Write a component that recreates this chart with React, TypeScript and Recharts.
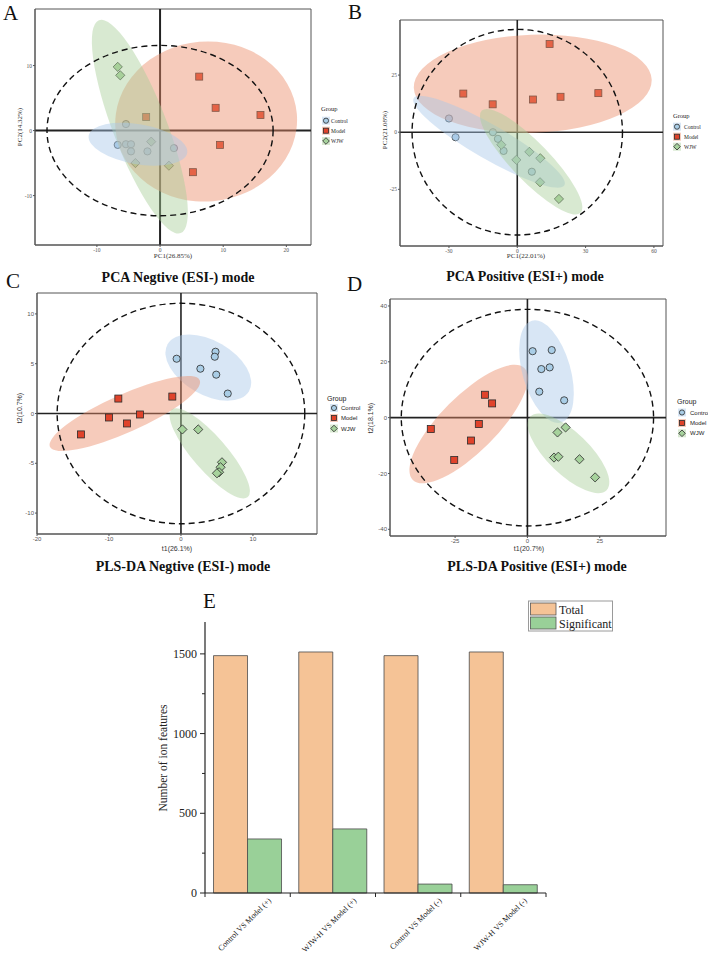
import {
  ScatterChart,
  Scatter,
  XAxis,
  YAxis,
  ReferenceLine,
  ReferenceArea,
  BarChart,
  Bar,
} from "recharts";

type Point = { x: number; y: number };
type Group = "Control" | "Model" | "WJW";
type Rect = { x: number; y: number; w: number; h: number };
// confidence ellipse: centre in score units, semi-axes in px, tilt in degrees
type Ellipse = { group: Group; x: number; y: number; rx: number; ry: number; angle: number };

// --- PCA, ESI- (PC1 26.85%, PC2 14.32%) ---
const PCA_NEG_CONTROL: Point[] = [
  { x: -5.4, y: 1.0 }, { x: -6.7, y: -2.2 }, { x: -5.4, y: -2.1 }, { x: -4.6, y: -2.1 },
  { x: -4.6, y: -3.2 }, { x: -2.0, y: -3.2 }, { x: 2.2, y: -2.7 },
];
const PCA_NEG_MODEL: Point[] = [
  { x: 6.2, y: 8.3 }, { x: 8.8, y: 3.5 }, { x: 15.9, y: 2.4 },
  { x: 9.5, y: -2.2 }, { x: 5.2, y: -6.4 }, { x: -2.2, y: 2.1 },
];
const PCA_NEG_WJW: Point[] = [
  { x: -6.7, y: 9.8 }, { x: -6.3, y: 8.5 }, { x: -1.4, y: -1.7 },
  { x: -3.9, y: -5.0 }, { x: 1.4, y: -5.4 },
];

// --- PCA, ESI+ (PC1 22.01%, PC2 21.08%) ---
const PCA_POS_CONTROL: Point[] = [
  { x: -30.0, y: 6.0 }, { x: -27.1, y: -2.2 }, { x: -10.7, y: 0.0 },
  { x: -8.5, y: -2.9 }, { x: -6.0, y: -8.2 }, { x: 6.4, y: -17.3 },
];
const PCA_POS_MODEL: Point[] = [
  { x: 14.2, y: 38.6 }, { x: -23.7, y: 16.9 }, { x: -10.8, y: 12.2 },
  { x: 6.9, y: 14.3 }, { x: 19.0, y: 15.5 }, { x: 35.6, y: 17.1 },
];
const PCA_POS_WJW: Point[] = [
  { x: -7.0, y: -5.5 }, { x: -0.4, y: -12.1 }, { x: 5.3, y: -8.6 },
  { x: 10.1, y: -11.4 }, { x: 10.0, y: -21.9 }, { x: 18.3, y: -29.2 },
];

// --- PLS-DA, ESI- (t1 26.1%, t2 10.7%) ---
const PLS_NEG_CONTROL: Point[] = [
  { x: -0.6, y: 5.5 }, { x: 2.7, y: 4.5 }, { x: 4.8, y: 6.2 },
  { x: 4.7, y: 5.7 }, { x: 4.9, y: 3.9 }, { x: 6.5, y: 2.0 },
];
const PLS_NEG_MODEL: Point[] = [
  { x: -8.7, y: 1.5 }, { x: -1.2, y: 1.7 }, { x: -10.0, y: -0.4 },
  { x: -5.7, y: -0.1 }, { x: -7.5, y: -1.0 }, { x: -13.9, y: -2.1 },
];
const PLS_NEG_WJW: Point[] = [
  { x: 0.2, y: -1.6 }, { x: 2.4, y: -1.6 }, { x: 5.7, y: -4.9 },
  { x: 5.5, y: -5.4 }, { x: 5.3, y: -5.9 }, { x: 5.0, y: -6.0 },
];

// --- PLS-DA, ESI+ (t1 20.7%, t2 18.1%) ---
const PLS_POS_CONTROL: Point[] = [
  { x: 1.8, y: 23.8 }, { x: 8.4, y: 24.2 }, { x: 4.8, y: 17.4 },
  { x: 7.7, y: 18.0 }, { x: 4.1, y: 9.3 }, { x: 12.7, y: 6.2 },
];
const PLS_POS_MODEL: Point[] = [
  { x: -14.7, y: 8.2 }, { x: -12.2, y: 5.1 }, { x: -16.8, y: -2.3 },
  { x: -19.5, y: -8.2 }, { x: -33.4, y: -4.1 }, { x: -25.3, y: -15.2 },
];
const PLS_POS_WJW: Point[] = [
  { x: 10.4, y: -5.3 }, { x: 13.2, y: -3.5 }, { x: 9.2, y: -14.3 },
  { x: 10.7, y: -14.0 }, { x: 18.0, y: -14.9 }, { x: 23.4, y: -21.4 },
];

// group ellipses
const PCA_NEG_ELLIPSES: Ellipse[] = [
  { group: "Model", x: 7.3, y: 1.4, rx: 91, ry: 80, angle: -5 },
  { group: "WJW", x: -3.2, y: 0.6, rx: 114, ry: 27, angle: 69 },
  { group: "Control", x: -3.5, y: -2.1, rx: 50, ry: 20, angle: 10 },
];
const PCA_POS_ELLIPSES: Ellipse[] = [
  { group: "Model", x: 6.8, y: 21.2, rx: 119, ry: 49, angle: -2 },
  { group: "Control", x: -12.4, y: -4.2, rx: 87, ry: 17, angle: 30 },
  { group: "WJW", x: 6.1, y: -12.9, rx: 71, ry: 19, angle: 46 },
];
const PLS_NEG_ELLIPSES: Ellipse[] = [
  { group: "Control", x: 3.8, y: 4.6, rx: 47, ry: 27, angle: 30 },
  { group: "Model", x: -7.8, y: 0.0, rx: 82, ry: 19, angle: -24 },
  { group: "WJW", x: 4.0, y: -4.0, rx: 58, ry: 17, angle: 49 },
];
const PLS_POS_ELLIPSES: Ellipse[] = [
  { group: "Model", x: -20.3, y: -2.3, rx: 79, ry: 28, angle: -45 },
  { group: "Control", x: 6.6, y: 16.5, rx: 53, ry: 24, angle: 74 },
  { group: "WJW", x: 14.2, y: -12.8, rx: 53, ry: 21, angle: 44 },
];

// Hotelling T2 ellipse half-widths (score units)
const PCA_NEG_T2 = { rx: 17.9, ry: 13.1 };
const PCA_POS_T2 = { rx: 46.2, ry: 45.0 };
const PLS_NEG_T2 = { rx: 17.2, ry: 11.07 };
const PLS_POS_T2 = { rx: 43.6, ry: 38.8 };
const ORIGIN: Point[] = [{ x: 0, y: 0 }];

// --- Ion feature counts ---
const COMPARISONS = [
  "Control VS Model (+)",
  "WJW-H VS Model (+)",
  "Control VS Model (-)",
  "WJW-H VS Model (-)",
];
const TOTAL_FEATURES = [1489, 1512, 1489, 1512];
const SIGNIFICANT_FEATURES = [339, 402, 56, 52];
const COUNT_TICKS = [0, 250, 500, 750, 1000, 1250, 1500];

const GROUPS: Group[] = ["Control", "Model", "WJW"];

const SERIF = '"Liberation Serif", "Times New Roman", serif';
const SANS = '"Liberation Sans", Arial, sans-serif';

const POINT_FILL: Record<Group, string> = {
  Control: "#A9CDE6",
  Model: "#E0432B",
  WJW: "#A6D29C",
};
const AREA_FILL: Record<Group, string> = {
  Control: "#A9C8E8",
  Model: "#EB8C68",
  WJW: "#A8CE98",
};
const EDGE = "#2b2b2b";

function Marker({ group, cx, cy, s = 1 }: { group: Group; cx: number; cy: number; s?: number }) {
  if (group === "Control") {
    return <circle cx={cx} cy={cy} r={3.6 * s} fill={POINT_FILL.Control} stroke={EDGE} strokeWidth={0.8} />;
  }
  if (group === "Model") {
    const h = 3.5 * s;
    return <rect x={cx - h} y={cy - h} width={2 * h} height={2 * h} fill={POINT_FILL.Model} stroke={EDGE} strokeWidth={0.8} />;
  }
  const d = 4.6 * s;
  return (
    <polygon
      points={`${cx},${cy - d} ${cx + d},${cy} ${cx},${cy + d} ${cx - d},${cy}`}
      fill={POINT_FILL.WJW}
      stroke={EDGE}
      strokeWidth={0.8}
    />
  );
}

type ScorePlotProps = {
  box: Rect;
  plot: Rect;
  xDomain: [number, number];
  yDomain: [number, number];
  xTicks: number[];
  yTicks: number[];
  series: Record<Group, Point[]>;
  ellipses: Ellipse[];
  t2: { rx: number; ry: number };
  ellipsesOnTop: boolean;
  font: string;
  tickFont: number;
  axisWidth: number;
};

function ScorePlot(p: ScorePlotProps) {
  const { box, plot, xDomain, yDomain } = p;
  const kx = plot.w / (xDomain[1] - xDomain[0]);
  const ky = plot.h / (yDomain[1] - yDomain[0]);
  const tick = { fontSize: p.tickFont, fill: "#555", fontFamily: p.font };

  const ellipseLayer = (
    <Scatter
      key="ellipses"
      data={p.ellipses}
      isAnimationActive={false}
      shape={(s: any) => (
        <ellipse
          cx={s.cx}
          cy={s.cy}
          rx={s.payload.rx}
          ry={s.payload.ry}
          transform={`rotate(${s.payload.angle} ${s.cx} ${s.cy})`}
          fill={AREA_FILL[s.payload.group as Group]}
          fillOpacity={0.45}
        />
      )}
    />
  );

  return (
    <div style={{ position: "absolute", left: box.x, top: box.y }}>
      <ScatterChart
        width={box.w}
        height={box.h}
        margin={{ top: plot.y - box.y, right: box.x + box.w - plot.x - plot.w, bottom: 0, left: 0 }}
      >
        <XAxis
          type="number"
          dataKey="x"
          domain={xDomain}
          ticks={p.xTicks}
          interval={0}
          allowDataOverflow
          height={box.y + box.h - plot.y - plot.h}
          tick={tick}
          tickSize={2}
          tickMargin={1}
          stroke="#555"
        />
        <YAxis
          type="number"
          dataKey="y"
          domain={yDomain}
          ticks={p.yTicks}
          interval={0}
          allowDataOverflow
          width={plot.x - box.x}
          tick={tick}
          tickSize={2}
          tickMargin={1}
          stroke="#555"
        />
        <ReferenceArea
          x1={xDomain[0]}
          x2={xDomain[1]}
          y1={yDomain[0]}
          y2={yDomain[1]}
          fill="none"
          stroke="#555"
          strokeWidth={1}
        />
        <ReferenceLine x={0} stroke="#222" strokeWidth={p.axisWidth} />
        <ReferenceLine y={0} stroke="#222" strokeWidth={p.axisWidth} />
        {!p.ellipsesOnTop && ellipseLayer}
        {GROUPS.map((g) => (
          <Scatter
            key={g}
            name={g}
            data={p.series[g]}
            isAnimationActive={false}
            shape={(s: any) => <Marker group={g} cx={s.cx} cy={s.cy} />}
          />
        ))}
        {p.ellipsesOnTop && ellipseLayer}
        <Scatter
          data={ORIGIN}
          isAnimationActive={false}
          shape={(s: any) => (
            <ellipse
              cx={s.cx}
              cy={s.cy}
              rx={p.t2.rx * kx}
              ry={p.t2.ry * ky}
              fill="none"
              stroke="#111"
              strokeWidth={1.4}
              strokeDasharray="6 4"
            />
          )}
        />
      </ScatterChart>
    </div>
  );
}

type LegendSpec = {
  titleX: number;
  titleY: number;
  iconX: number;
  textX: number;
  rows: number[];
  font: string;
  size: number;
};

function GroupLegend({ l }: { l: LegendSpec }) {
  return (
    <g fontFamily={l.font} fill="#222">
      <text x={l.titleX} y={l.titleY} fontSize={l.size + 1}>Group</text>
      {GROUPS.map((g, i) => (
        <g key={g}>
          <rect x={l.iconX - 4} y={l.rows[i] - 4} width={8} height={8} fill={AREA_FILL[g]} fillOpacity={0.45} />
          <Marker group={g} cx={l.iconX} cy={l.rows[i]} s={0.72} />
          <text x={l.textX} y={l.rows[i]} fontSize={l.size} dominantBaseline="central">{g}</text>
        </g>
      ))}
    </g>
  );
}

// bar chart geometry: plot spans x 205..546, y 622..893
const BAR_BOX = { x: 125, y: 592, w: 441, h: 361 };
const HALF_BAND = 341 / COMPARISONS.length / 2;

function CountTick(t: any) {
  const v = t.payload.value as number;
  const major = v % 500 === 0;
  return (
    <g>
      <line x1={t.x - (major ? 5 : 3)} x2={t.x} y1={t.y} y2={t.y} stroke="#222" strokeWidth={1} />
      {major && (
        <text x={t.x - 8} y={t.y} textAnchor="end" dominantBaseline="central" fontFamily={SERIF} fontSize={12} fill="#222">
          {v}
        </text>
      )}
    </g>
  );
}

function ComparisonTick(t: any) {
  const ax = t.x + 24;
  const ay = t.y + 8;
  return (
    <g>
      {t.index === 0 && <line x1={t.x - HALF_BAND} x2={t.x - HALF_BAND} y1={t.y} y2={t.y + 4} stroke="#222" />}
      <line x1={t.x + HALF_BAND} x2={t.x + HALF_BAND} y1={t.y} y2={t.y + 4} stroke="#222" />
      <text
        x={ax}
        y={ay}
        transform={`rotate(-45 ${ax} ${ay})`}
        textAnchor="end"
        fontFamily={SERIF}
        fontSize={8}
        fill="#222"
      >
        {t.payload.value}
      </text>
    </g>
  );
}

function FeatureBars() {
  const data = COMPARISONS.map((name, i) => ({
    name,
    total: TOTAL_FEATURES[i],
    significant: SIGNIFICANT_FEATURES[i],
  }));
  return (
    <div style={{ position: "absolute", left: BAR_BOX.x, top: BAR_BOX.y }}>
      <BarChart
        width={BAR_BOX.w}
        height={BAR_BOX.h}
        data={data}
        margin={{ top: 30, right: 20, bottom: 0, left: 0 }}
        barCategoryGap="10%"
        barGap={0}
      >
        <XAxis
          dataKey="name"
          height={60}
          interval={0}
          tickLine={false}
          tickSize={0}
          tickMargin={0}
          tick={ComparisonTick}
          stroke="#222"
          strokeWidth={1.2}
        />
        <YAxis
          type="number"
          domain={[0, 1700]}
          ticks={COUNT_TICKS}
          interval={0}
          width={80}
          tickLine={false}
          tickSize={0}
          tickMargin={0}
          tick={CountTick}
          stroke="#222"
          strokeWidth={1.2}
        />
        <Bar dataKey="total" fill="#F5C396" stroke="#4a4a4a" strokeWidth={0.8} isAnimationActive={false} />
        <Bar dataKey="significant" fill="#99D098" stroke="#4a4a4a" strokeWidth={0.8} isAnimationActive={false} />
      </BarChart>
    </div>
  );
}

const LEGEND_A: LegendSpec = { titleX: 321, titleY: 111, iconX: 326, textX: 331, rows: [120.7, 130.7, 141], font: SERIF, size: 5.5 };
const LEGEND_B: LegendSpec = { titleX: 673, titleY: 118, iconX: 677, textX: 684, rows: [126.7, 136.7, 146.7], font: SERIF, size: 5.5 };
const LEGEND_C: LegendSpec = { titleX: 327, titleY: 401, iconX: 334, textX: 341, rows: [408, 418, 428.5], font: SANS, size: 6 };
const LEGEND_D: LegendSpec = { titleX: 677, titleY: 404, iconX: 682, textX: 690, rows: [412.5, 423, 433.3], font: SANS, size: 6 };

function Annotations() {
  const letter = { fontFamily: SERIF, fontSize: 21, fill: "#111" };
  const title = { fontFamily: SERIF, fontSize: 14, fontWeight: 700, fill: "#111", textAnchor: "middle" as const };
  const serifLab = { fontFamily: SERIF, fontSize: 7, fill: "#333", textAnchor: "middle" as const };
  const sansLab = { fontFamily: SANS, fontSize: 7, fill: "#333", textAnchor: "middle" as const };
  return (
    <svg width={708} height={953} style={{ position: "absolute", left: 0, top: 0, pointerEvents: "none" }}>
      <text x={3} y={20} {...letter}>A</text>
      <text x={348} y={19} {...letter}>B</text>
      <text x={6} y={288} {...letter}>C</text>
      <text x={347} y={291} {...letter}>D</text>
      <text x={203} y={608} {...letter}>E</text>

      <text x={178} y={282} {...title}>PCA Negtive (ESI-) mode</text>
      <text x={525} y={281} {...title}>PCA Positive (ESI+) mode</text>
      <text x={183} y={571} {...title}>PLS-DA Negtive (ESI-) mode</text>
      <text x={537} y={571} {...title}>PLS-DA Positive (ESI+) mode</text>

      <text x={173} y={258} {...serifLab}>PC1(26.85%)</text>
      <text transform="translate(22 127) rotate(-90)" {...serifLab}>PC2(14.32%)</text>
      <text x={526} y={258} {...serifLab}>PC1(22.01%)</text>
      <text transform="translate(387 130) rotate(-90)" {...serifLab}>PC2(21.08%)</text>
      <text x={177} y={551} {...sansLab}>t1(26.1%)</text>
      <text transform="translate(22 408) rotate(-90)" {...sansLab}>t2(10.7%)</text>
      <text x={529} y={551} {...sansLab}>t1(20.7%)</text>
      <text transform="translate(373 418) rotate(-90)" {...sansLab}>t2(18.1%)</text>

      <GroupLegend l={LEGEND_A} />
      <GroupLegend l={LEGEND_B} />
      <GroupLegend l={LEGEND_C} />
      <GroupLegend l={LEGEND_D} />

      <text
        transform="translate(167 758) rotate(-90)"
        fontFamily={SERIF}
        fontSize={11.5}
        fill="#222"
        textAnchor="middle"
      >
        Number of ion features
      </text>
      <g fontFamily={SERIF} fontSize={12} fill="#222">
        <rect x={528.5} y={601} width={84} height={30} fill="#fff" stroke="#9a9a9a" strokeWidth={1} />
        <rect x={530.5} y={603} width={25.5} height={12} fill="#F5C396" stroke="#555" strokeWidth={0.8} />
        <rect x={530.5} y={617} width={25.5} height={12} fill="#99D098" stroke="#555" strokeWidth={0.8} />
        <text x={559} y={613.5}>Total</text>
        <text x={559} y={627.5}>Significant</text>
      </g>
    </svg>
  );
}

export default function App() {
  return (
    <div style={{ position: "absolute", left: 0, top: 0, width: 708, height: 953, background: "#fff" }}>
      <ScorePlot
        box={{ x: 0, y: 0, w: 354, h: 262 }}
        plot={{ x: 35, y: 9, w: 276, h: 236 }}
        xDomain={[-19.8, 23.9]}
        yDomain={[-17.6, 18.7]}
        xTicks={[-10, 0, 10, 20]}
        yTicks={[-10, 0, 10]}
        series={{ Control: PCA_NEG_CONTROL, Model: PCA_NEG_MODEL, WJW: PCA_NEG_WJW }}
        ellipses={PCA_NEG_ELLIPSES}
        t2={PCA_NEG_T2}
        ellipsesOnTop
        font={SERIF}
        tickFont={5.5}
        axisWidth={2}
      />
      <ScorePlot
        box={{ x: 354, y: 0, w: 354, h: 262 }}
        plot={{ x: 400, y: 20, w: 263, h: 226 }}
        xDomain={[-51.5, 64.0]}
        yDomain={[-49.8, 49.1]}
        xTicks={[-30, 0, 30, 60]}
        yTicks={[-25, 0, 25]}
        series={{ Control: PCA_POS_CONTROL, Model: PCA_POS_MODEL, WJW: PCA_POS_WJW }}
        ellipses={PCA_POS_ELLIPSES}
        t2={PCA_POS_T2}
        ellipsesOnTop
        font={SERIF}
        tickFont={5.5}
        axisWidth={1.6}
      />
      <ScorePlot
        box={{ x: 0, y: 262, w: 354, h: 292 }}
        plot={{ x: 37, y: 293, w: 280, h: 241 }}
        xDomain={[-20.0, 18.9]}
        yDomain={[-12.1, 12.1]}
        xTicks={[-20, -10, 0, 10]}
        yTicks={[-10, -5, 0, 5, 10]}
        series={{ Control: PLS_NEG_CONTROL, Model: PLS_NEG_MODEL, WJW: PLS_NEG_WJW }}
        ellipses={PLS_NEG_ELLIPSES}
        t2={PLS_NEG_T2}
        ellipsesOnTop={false}
        font={SANS}
        tickFont={6}
        axisWidth={1.6}
      />
      <ScorePlot
        box={{ x: 354, y: 262, w: 354, h: 292 }}
        plot={{ x: 390, y: 299, w: 276, h: 237 }}
        xDomain={[-47.5, 47.9]}
        yDomain={[-42.4, 42.5]}
        xTicks={[-25, 0, 25]}
        yTicks={[-40, -20, 0, 20, 40]}
        series={{ Control: PLS_POS_CONTROL, Model: PLS_POS_MODEL, WJW: PLS_POS_WJW }}
        ellipses={PLS_POS_ELLIPSES}
        t2={PLS_POS_T2}
        ellipsesOnTop={false}
        font={SANS}
        tickFont={6}
        axisWidth={1.6}
      />
      <FeatureBars />
      <Annotations />
    </div>
  );
}
